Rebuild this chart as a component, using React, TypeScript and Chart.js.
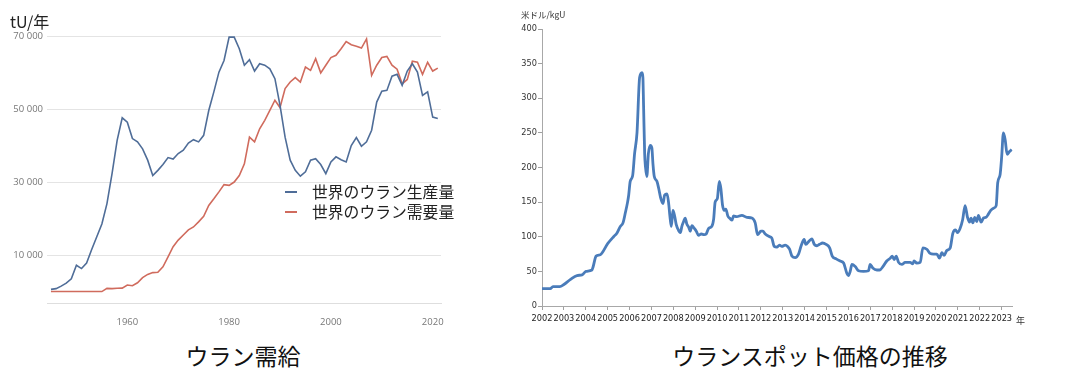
import React, { useEffect, useRef } from "react";
import { Chart, registerables } from "chart.js";

Chart.register(...registerables);

// ---------- Left chart: ウラン需給 ----------
const years = [
  1945, 1946, 1947, 1948, 1949, 1950, 1951, 1952, 1953, 1954, 1955, 1956, 1957, 1958, 1959,
  1960, 1961, 1962, 1963, 1964, 1965, 1966, 1967, 1968, 1969, 1970, 1971, 1972, 1973, 1974,
  1975, 1976, 1977, 1978, 1979, 1980, 1981, 1982, 1983, 1984, 1985, 1986, 1987, 1988, 1989,
  1990, 1991, 1992, 1993, 1994, 1995, 1996, 1997, 1998, 1999, 2000, 2001, 2002, 2003, 2004,
  2005, 2006, 2007, 2008, 2009, 2010, 2011, 2012, 2013, 2014, 2015, 2016, 2017, 2018, 2019,
  2020, 2021,
];
const production = [
  600, 800, 1500, 2300, 3500, 7200, 6300, 7800, 11500, 15000, 18500, 24100, 32300, 41400, 47600,
  46400, 41900, 41000, 39100, 36000, 31800, 33200, 34800, 36700, 36300, 37800, 38700, 40700, 41600, 41000,
  42800, 49600, 54700, 60100, 63300, 69700, 69700, 66500, 62000, 63500, 60400, 62400, 62000, 61000, 58300,
  51000, 42300, 36000, 33200, 31600, 32800, 36000, 36400, 34800, 32300, 35500, 36900, 36100, 35500, 40000,
  42200, 39800, 41000, 44200, 51900, 54900, 55100, 59000, 59500, 56500, 60400, 62400, 60100, 53700, 54700,
  47800, 47400,
];
const demand = [
  0, 0, 0, 0, 0, 0, 0, 0, 0, 0, 0, 880, 800, 900, 950,
  1800, 1600, 2400, 3800, 4700, 5200, 5300, 6800, 9500, 12300, 14100, 15500, 16900, 17700, 19100,
  20600, 23600, 25400, 27300, 29300, 29100, 30000, 31800, 35000, 42300, 41000, 44600, 46900, 49600, 52400,
  50400, 55600, 57400, 58600, 57400, 61500, 60600, 63800, 59900, 62000, 64100, 64700, 66500, 68500, 67600,
  67200, 66700, 69200, 59200, 62000, 64100, 64400, 62000, 60900, 56900, 58100, 63100, 62800, 59500, 62800,
  60400, 61200,
];
const leftYTicks = [10000, 30000, 50000, 70000];
const leftXTicks = [1960, 1980, 2000, 2020];
const leftSeriesNames = ["世界のウラン生産量", "世界のウラン需要量"];

// ---------- Right chart: ウランスポット価格の推移 ----------
const priceDates = [
  2002.0, 2002.38, 2002.5, 2002.81, 2003.0, 2003.29, 2003.6, 2003.83, 2004.01, 2004.28,
  2004.33, 2004.47, 2004.66, 2005.0, 2005.27, 2005.42, 2005.58, 2005.7, 2005.81, 2005.91,
  2005.96, 2006.03, 2006.14, 2006.23, 2006.34, 2006.46, 2006.57, 2006.61, 2006.64, 2006.69,
  2006.73, 2006.79, 2006.86, 2006.95, 2007.02, 2007.07, 2007.13, 2007.25, 2007.33, 2007.43,
  2007.53, 2007.6, 2007.71, 2007.78, 2007.86, 2007.91, 2007.98, 2008.06, 2008.13, 2008.26,
  2008.32, 2008.39, 2008.47, 2008.54, 2008.62, 2008.7, 2008.77, 2008.85, 2008.96, 2009.05,
  2009.15, 2009.28, 2009.41, 2009.5, 2009.61, 2009.76, 2009.84, 2009.91, 2010.01, 2010.1,
  2010.17, 2010.25, 2010.33, 2010.4, 2010.49, 2010.6, 2010.68, 2010.75, 2010.9, 2011.13,
  2011.36, 2011.59, 2011.74, 2011.85, 2012.0, 2012.09, 2012.2, 2012.4, 2012.5, 2012.61,
  2012.73, 2012.85, 2012.96, 2013.11, 2013.22, 2013.31, 2013.42, 2013.57, 2013.72, 2013.84,
  2013.98, 2014.05, 2014.21, 2014.33, 2014.44, 2014.56, 2014.68, 2014.82, 2014.98, 2015.14,
  2015.26, 2015.44, 2015.62, 2015.78, 2015.93, 2016.0, 2016.08, 2016.16, 2016.31, 2016.46,
  2016.69, 2016.92, 2016.99, 2017.11, 2017.3, 2017.42, 2017.6, 2017.75, 2017.91, 2018.0,
  2018.09, 2018.18, 2018.29, 2018.44, 2018.59, 2018.82, 2018.94, 2019.0, 2019.12, 2019.28,
  2019.4, 2019.58, 2019.73, 2019.88, 2020.04, 2020.16, 2020.27, 2020.37, 2020.49, 2020.65,
  2020.77, 2020.89, 2020.98, 2021.1, 2021.22, 2021.33, 2021.44, 2021.53, 2021.6, 2021.68,
  2021.77, 2021.86, 2021.94, 2022.06, 2022.17, 2022.29, 2022.4, 2022.5, 2022.62, 2022.75,
  2022.82, 2022.93, 2023.0, 2023.08, 2023.16, 2023.25, 2023.36, 2023.46,
];
const prices = [
  25, 25, 28, 28, 31, 38, 44, 45, 50, 52,
  56, 72, 74, 90, 100, 105, 115, 120, 135, 150,
  160, 180, 188, 220, 250, 330, 337, 330, 290, 220,
  200, 187, 220, 232, 228, 205, 187, 180, 170, 155,
  148, 160, 162, 150, 125, 115, 138, 130, 118, 108,
  106, 115, 122, 127, 118, 114, 108, 116, 112, 108,
  102, 104, 103, 104, 112, 115, 125, 150, 155, 180,
  170, 145, 138, 140, 130, 126, 124, 130, 129, 131,
  128, 127, 120, 103, 108, 108, 104, 100, 98, 86,
  85, 88, 86, 88, 86, 82, 72, 70, 75, 87,
  96, 89, 94, 97, 89, 87, 89, 91, 89, 84,
  72, 68, 65, 62, 47, 44, 50, 60, 57, 51,
  50, 51, 60, 55, 52, 52, 58, 65, 69, 72,
  67, 72, 63, 60, 63, 63, 61, 65, 62, 63,
  84, 82, 76, 75, 75, 69, 77, 73, 80, 84,
  105, 110, 106, 112, 125, 145, 128, 121, 127, 120,
  128, 122, 131, 121, 127, 128, 133, 138, 141, 145,
  178, 190, 215, 250, 240, 219, 223, 226,
];
const priceYearTicks = [
  2002, 2003, 2004, 2005, 2006, 2007, 2008, 2009, 2010, 2011, 2012,
  2013, 2014, 2015, 2016, 2017, 2018, 2019, 2020, 2021, 2022, 2023,
];

const CJK = '"Noto Sans CJK JP", "Noto Sans", sans-serif';
const NARROW = '"DejaVu Sans", sans-serif';

const fmtSpace = (v: number) =>
  Math.round(v).toString().replace(/\B(?=(\d{3})+(?!\d))/g, " ");

function SupplyDemandChart() {
  const ref = useRef<HTMLCanvasElement | null>(null);
  useEffect(() => {
    if (!ref.current) return;
    const chart = new Chart(ref.current, {
      type: "line",
      data: {
        datasets: [
          {
            label: leftSeriesNames[0],
            data: years.map((y, i) => ({ x: y, y: production[i] })),
            borderColor: "#4f6d98",
            borderWidth: 1.6,
            pointRadius: 0,
            tension: 0,
          },
          {
            label: leftSeriesNames[1],
            data: years.map((y, i) => ({ x: y, y: demand[i] })),
            borderColor: "#d06b5d",
            borderWidth: 1.6,
            pointRadius: 0,
            tension: 0,
          },
        ],
      },
      options: {
        responsive: false,
        animation: false,
        layout: { padding: { top: 36, right: 19, bottom: 5, left: 0 } },
        plugins: { legend: { display: false }, tooltip: { enabled: false } },
        scales: {
          x: {
            type: "linear",
            min: 1944.22,
            max: 2021.63,
            afterBuildTicks: (s: any) => {
              s.ticks = leftXTicks.map((v) => ({ value: v }));
            },
            afterFit: (s: any) => {
              s.height = 22;
            },
            grid: { display: false },
            border: { display: true, color: "#dedede", width: 1 },
            ticks: {
              autoSkip: false,
              maxRotation: 0,
              padding: 6,
              color: "#777",
              font: { family: '"Open Sans", sans-serif', size: 9.5 },
              callback: (v: any) => String(v),
            },
          },
          y: {
            min: -3130,
            max: 70000,
            afterBuildTicks: (s: any) => {
              s.ticks = leftYTicks.map((v) => ({ value: v }));
            },
            afterFit: (s: any) => {
              s.width = 47;
            },
            grid: { color: "#e4e4e4", drawTicks: false, lineWidth: 1 },
            border: { display: false },
            ticks: {
              padding: 4,
              color: "#777",
              font: { family: '"Open Sans", sans-serif', size: 9.5 },
              callback: (v: any) => fmtSpace(Number(v)),
            },
          },
        },
      },
    });
    return () => chart.destroy();
  }, []);
  return (
    <canvas
      ref={ref}
      width={460}
      height={330}
      style={{ position: "absolute", left: 0, top: 0, width: 460, height: 330 }}
    />
  );
}

function SpotPriceChart() {
  const ref = useRef<HTMLCanvasElement | null>(null);
  useEffect(() => {
    if (!ref.current) return;
    const chart = new Chart(ref.current, {
      type: "line",
      data: {
        datasets: [
          {
            label: "ウランスポット価格",
            data: priceDates.map((d, i) => ({ x: d, y: prices[i] })),
            borderColor: "#4a7cba",
            borderWidth: 2.8,
            pointRadius: 0,
            cubicInterpolationMode: "monotone",
          },
        ],
      },
      options: {
        responsive: false,
        animation: false,
        layout: { padding: { top: 29, right: 54.4, bottom: 4, left: 0 } },
        plugins: { legend: { display: false }, tooltip: { enabled: false } },
        scales: {
          x: {
            type: "linear",
            min: 2002,
            max: 2023.5,
            afterBuildTicks: (s: any) => {
              s.ticks = priceYearTicks.map((v) => ({ value: v }));
            },
            afterFit: (s: any) => {
              s.height = 20;
            },
            grid: { drawOnChartArea: false, drawTicks: true, tickLength: 4, color: "#a0a0a0" },
            border: { display: true, color: "#a8a8a8", width: 1 },
            ticks: {
              autoSkip: false,
              maxRotation: 0,
              padding: 4,
              color: "#222",
              font: { family: NARROW, size: 8.2, style: "condensed" as any },
              callback: (v: any) => String(v),
            },
          },
          y: {
            min: 0,
            max: 400,
            ticks: {
              stepSize: 50,
              padding: 1,
              color: "#333",
              font: { family: NARROW, size: 8.2, style: "condensed" as any },
            },
            afterFit: (s: any) => {
              s.width = 42;
            },
            grid: { drawOnChartArea: false, drawTicks: true, tickLength: 4, color: "#a0a0a0" },
            border: { display: true, color: "#a8a8a8", width: 1 },
          },
        },
      },
    });
    return () => chart.destroy();
  }, []);
  return (
    <canvas
      ref={ref}
      width={567}
      height={330}
      style={{ position: "absolute", left: 500, top: 0, width: 567, height: 330 }}
    />
  );
}

const abs = (extra: React.CSSProperties): React.CSSProperties => ({
  position: "absolute",
  whiteSpace: "nowrap",
  fontFamily: CJK,
  ...extra,
});

export default function App() {
  return (
    <div
      style={{
        position: "absolute",
        left: 0,
        top: 0,
        width: 1067,
        height: 368,
        background: "#fff",
        overflow: "hidden",
      }}
    >
      <SupplyDemandChart />
      <SpotPriceChart />

      <div style={abs({ left: 10, top: 12, fontSize: 16, lineHeight: "18px", color: "#222" })}>tU/年</div>

      {/* legend */}
      <div style={{ position: "absolute", left: 285, top: 191, width: 12, height: 2, background: "#4f6d98" }} />
      <div style={{ position: "absolute", left: 285, top: 211, width: 12, height: 2, background: "#d06b5d" }} />
      <div style={abs({ left: 312, top: 182, fontSize: 15.8, lineHeight: "20px", color: "#222" })}>
        {leftSeriesNames[0]}
      </div>
      <div style={abs({ left: 312, top: 202, fontSize: 15.8, lineHeight: "20px", color: "#222" })}>
        {leftSeriesNames[1]}
      </div>

      <div style={abs({ left: 521, top: 8, fontSize: 8.5, lineHeight: "12px", color: "#333" })}>米ドル/kgU</div>
      <div style={abs({ left: 1016, top: 315, fontSize: 9, lineHeight: "12px", color: "#333" })}>年</div>

      <div
        style={abs({
          left: 143,
          width: 200,
          top: 341,
          textAlign: "center",
          fontSize: 23,
          lineHeight: "28px",
          color: "#111",
        })}
      >
        ウラン需給
      </div>
      <div
        style={abs({
          left: 660,
          width: 300,
          top: 341,
          textAlign: "center",
          fontSize: 23,
          lineHeight: "28px",
          color: "#111",
        })}
      >
        ウランスポット価格の推移
      </div>
    </div>
  );
}
